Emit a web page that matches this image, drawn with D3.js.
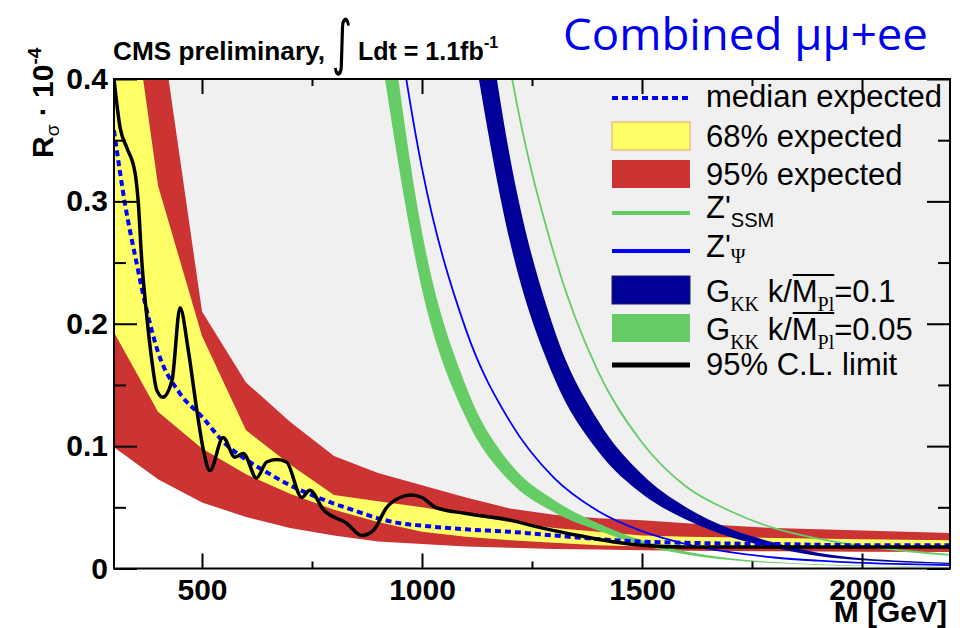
<!DOCTYPE html>
<html>
<head>
<meta charset="utf-8">
<script src="https://cdn.jsdelivr.net/npm/d3@7"></script>
<style>
  body { margin: 0; background: #fff; }
  svg { display: block; }
</style>
</head>
<body>
<svg id="chart" width="960" height="628"></svg>
<script>
// expected limit bands, R_sigma in units of 1e-4
const bandMass = [300, 400, 500, 600, 700, 800, 900, 1000, 1100, 1200, 1300, 1400, 1500, 1600, 1800, 2000, 2200];
const up95 = [0.75, 0.46, 0.21, 0.152, 0.12, 0.092, 0.078, 0.068, 0.058, 0.049, 0.044, 0.041, 0.0395, 0.037, 0.033, 0.031, 0.029];
const up68 = [0.57, 0.313, 0.19, 0.113, 0.085, 0.06, 0.055, 0.05, 0.044, 0.038, 0.033, 0.030, 0.027, 0.026, 0.025, 0.024, 0.023];
const lo68 = [0.193, 0.128, 0.098, 0.077, 0.061, 0.048, 0.038, 0.030, 0.026, 0.023, 0.021, 0.019, 0.018, 0.0175, 0.017, 0.017, 0.0167];
const lo95 = [0.099, 0.073, 0.054, 0.042, 0.033, 0.027, 0.022, 0.020, 0.018, 0.017, 0.016, 0.0155, 0.015, 0.0145, 0.014, 0.0137, 0.0135];

// median expected
const medMass = [300, 325, 350, 375, 400, 450, 500, 550, 600, 650, 700, 750, 800, 850, 900, 950, 1000, 1100, 1200, 1300, 1400, 1500, 1600, 1800, 2000, 2200];
const median = [0.358, 0.298, 0.252, 0.21, 0.177, 0.143, 0.124, 0.103, 0.089, 0.078, 0.068, 0.060, 0.053, 0.047, 0.041, 0.037, 0.035, 0.032, 0.030, 0.027, 0.024, 0.022, 0.021, 0.020, 0.019, 0.019];

// observed 95% C.L. limit
const obsMass = [300, 314, 329, 348, 355, 363, 374, 386, 397, 411, 432, 450, 469, 488, 503, 518, 548, 575, 594, 624, 647, 670, 692, 727, 745, 776, 829, 863, 889, 920, 950, 975, 1000, 1031, 1100, 1193, 1274, 1355, 1437, 1500, 1600, 1800, 2000, 2200];
const observed = [0.40, 0.36, 0.344, 0.323, 0.30, 0.252, 0.208, 0.17, 0.146, 0.140, 0.154, 0.213, 0.178, 0.13, 0.097, 0.080, 0.107, 0.091, 0.094, 0.074, 0.087, 0.089, 0.087, 0.058, 0.064, 0.048, 0.037, 0.027, 0.031, 0.050, 0.058, 0.060, 0.058, 0.050, 0.045, 0.040, 0.033, 0.027, 0.0217, 0.019, 0.0175, 0.0175, 0.0175, 0.0175];

// theory: G_KK k/M_Pl = 0.05 (band)
const g05Mass = [900, 1000, 1100, 1200, 1300, 1400, 1500, 1600, 1700, 1800, 1900, 2000, 2100, 2200];
const g05Hi = [0.53, 0.275, 0.149, 0.086, 0.056, 0.037, 0.023, 0.0138, 0.0083, 0.0053, 0.0035, 0.0024, 0.0018, 0.0013];
const g05Lo = [0.437, 0.228, 0.123, 0.071, 0.046, 0.031, 0.019, 0.0114, 0.0069, 0.0044, 0.0029, 0.0020, 0.0015, 0.0011];

// theory: G_KK k/M_Pl = 0.1 (band)
const g01Mass = [1100, 1200, 1300, 1400, 1500, 1600, 1700, 1800, 1900, 2000, 2100, 2200];
const g01Hi = [0.582, 0.336, 0.196, 0.121, 0.077, 0.050, 0.0325, 0.0213, 0.0129, 0.0084, 0.0062, 0.0047];
const g01Lo = [0.463, 0.267, 0.156, 0.096, 0.061, 0.040, 0.0258, 0.0169, 0.0102, 0.0067, 0.0049, 0.0037];

// theory: Z'_psi and Z'_SSM (lines)
const zpsiMass = [900, 1000, 1100, 1200, 1300, 1400, 1500, 1600, 1700, 1800, 1900, 2000, 2100, 2200];
const zpsi = [0.557, 0.327, 0.195, 0.12, 0.074, 0.047, 0.0305, 0.020, 0.0134, 0.009, 0.0064, 0.0046, 0.0035, 0.0028];
const zssmMass = [1100, 1200, 1300, 1400, 1500, 1600, 1700, 1800, 1900, 2000, 2100, 2200];
const zssm = [0.67, 0.41, 0.257, 0.161, 0.103, 0.067, 0.047, 0.033, 0.0245, 0.0185, 0.0143, 0.0112];

// axes
const xMajor = [500, 1000, 1500, 2000];
const xMinor = [750, 1250, 1750];
const yMajor = [0, 0.1, 0.2, 0.3, 0.4];
const yMinor = [0.05, 0.15, 0.25, 0.35];

const col = {
  grey: "#f0f0f0", yellow: "#ffff66", red: "#cc3333", green: "#66cc66",
  navy: "#000099", blue: "#0000ff"
};
const sans = "'Liberation Sans', Arial, Helvetica, sans-serif";
const serif = "'Liberation Serif', 'Times New Roman', serif";

const svg = d3.select("#chart");
const x = d3.scaleLinear().domain([300, 2200]).range([114, 950]);
const y = d3.scaleLinear().domain([0, 0.4]).range([568.5, 79]);

svg.append("defs").append("clipPath").attr("id", "plot")
  .append("rect").attr("x", x(300)).attr("y", y(0.4))
  .attr("width", x(2200) - x(300)).attr("height", y(0) - y(0.4));

const plot = svg.append("g").attr("clip-path", "url(#plot)");

const zip = (ms, vs) => ms.map((m, i) => [m, vs[i]]);
const zip2 = (ms, lo, hi) => ms.map((m, i) => [m, lo[i], hi[i]]);

// excluded region (grey) above the observed limit
plot.append("path")
  .datum(zip(obsMass, observed))
  .attr("fill", col.grey)
  .attr("d", d3.area().x(d => x(d[0])).y0(y(0.45)).y1(d => y(d[1])).curve(d3.curveMonotoneX));

const bandArea = d3.area().x(d => x(d[0])).y0(d => y(d[1])).y1(d => y(d[2]));
plot.append("path").datum(zip2(bandMass, lo95, up95)).attr("fill", col.red).attr("d", bandArea);
plot.append("path").datum(zip2(bandMass, lo68, up68)).attr("fill", col.yellow).attr("d", bandArea);

const smoothBand = d3.area().x(d => x(d[0])).y0(d => y(d[1])).y1(d => y(d[2])).curve(d3.curveMonotoneX);
const smoothLine = d3.line().x(d => x(d[0])).y(d => y(d[1])).curve(d3.curveMonotoneX);

plot.append("path").datum(zip2(g05Mass, g05Lo, g05Hi)).attr("fill", col.green).attr("d", smoothBand);
plot.append("path").datum(zip2(g01Mass, g01Lo, g01Hi)).attr("fill", col.navy).attr("d", smoothBand);
plot.append("path").datum(zip(zpsiMass, zpsi)).attr("fill", "none")
  .attr("stroke", col.blue).attr("stroke-width", 1.8).attr("d", smoothLine);
plot.append("path").datum(zip(zssmMass, zssm)).attr("fill", "none")
  .attr("stroke", col.green).attr("stroke-width", 1.8).attr("d", smoothLine);

plot.append("path").datum(zip(medMass, median)).attr("fill", "none")
  .attr("stroke", col.blue).attr("stroke-width", 4).attr("stroke-dasharray", "6,4")
  .attr("d", smoothLine);
plot.append("path").datum(zip(obsMass, observed)).attr("fill", "none")
  .attr("stroke", "#000").attr("stroke-width", 3.5).attr("stroke-linejoin", "round")
  .attr("d", smoothLine);

// axes, ROOT style: ticks point inward on all four sides
function styleAxis(g) {
  g.select(".domain").remove();
  g.selectAll(".tick line").attr("stroke", "#000").attr("stroke-width", 2);
  g.selectAll("text").attr("font-family", sans).attr("font-size", 30)
    .attr("font-weight", "bold").attr("fill", "#000");
}
const fmtY = d => d === 0 ? "0" : d3.format(".1f")(d);

svg.append("g").attr("transform", `translate(0,${y(0)})`)
  .call(d3.axisBottom(x).tickValues(xMajor).tickSize(-15).tickFormat(d3.format("d")))
  .call(styleAxis)
  .call(g => g.selectAll("text").attr("y", 31.5).attr("dy", 0));
svg.append("g").attr("transform", `translate(0,${y(0)})`)
  .call(d3.axisBottom(x).tickValues(xMinor).tickSize(-7).tickFormat(""))
  .call(styleAxis);
svg.append("g").attr("transform", `translate(0,${y(0.4)})`)
  .call(d3.axisTop(x).tickValues(xMajor).tickSize(-15).tickFormat(""))
  .call(styleAxis);
svg.append("g").attr("transform", `translate(0,${y(0.4)})`)
  .call(d3.axisTop(x).tickValues(xMinor).tickSize(-7).tickFormat(""))
  .call(styleAxis);

svg.append("g").attr("transform", `translate(${x(300)},0)`)
  .call(d3.axisLeft(y).tickValues(yMajor).tickSize(-23).tickPadding(6).tickFormat(fmtY))
  .call(styleAxis);
svg.append("g").attr("transform", `translate(${x(300)},0)`)
  .call(d3.axisLeft(y).tickValues(yMinor).tickSize(-12).tickFormat(""))
  .call(styleAxis);
svg.append("g").attr("transform", `translate(${x(2200)},0)`)
  .call(d3.axisRight(y).tickValues(yMajor).tickSize(-23).tickFormat(""))
  .call(styleAxis);
svg.append("g").attr("transform", `translate(${x(2200)},0)`)
  .call(d3.axisRight(y).tickValues(yMinor).tickSize(-12).tickFormat(""))
  .call(styleAxis);

svg.append("rect")
  .attr("x", x(300)).attr("y", y(0.4))
  .attr("width", x(2200) - x(300)).attr("height", y(0) - y(0.4))
  .attr("fill", "none").attr("stroke", "#000").attr("stroke-width", 2);

// rich text helper: lays pieces out left to right
function rich(g, x0, y0, pieces) {
  let cx = x0;
  const pos = [];
  pieces.forEach(p => {
    const t = g.append("text")
      .attr("x", cx).attr("y", y0 + (p.dy || 0))
      .attr("font-family", p.serif ? serif : sans)
      .attr("font-size", p.size || 31)
      .attr("font-weight", p.bold ? "bold" : "normal")
      .style("white-space", "pre")
      .text(p.t);
    const w = t.node().getComputedTextLength();
    pos.push([cx, cx + w]);
    cx += w;
  });
  return pos;
}

// axis titles
svg.append("text")
  .attr("x", 947).attr("y", 622).attr("text-anchor", "end")
  .attr("font-family", sans).attr("font-size", 30).attr("font-weight", "bold")
  .text("M [GeV]");

const yl = svg.append("g").attr("transform", "translate(53,158) rotate(-90)");
rich(yl, 0, 0, [
  { t: "R", bold: true, size: 30 },
  { t: "σ", size: 19, dy: 6 },
  { t: " · ", bold: true, size: 30 },
  { t: "10", bold: true, size: 30 },
  { t: "-4", bold: true, size: 19, dy: -12 }
]);

// header
svg.append("text").attr("x", 113).attr("y", 60)
  .attr("font-family", sans).attr("font-size", 25).attr("font-weight", "bold")
  .attr("textLength", 212).attr("lengthAdjust", "spacingAndGlyphs")
  .text("CMS preliminary,");
svg.append("text").attr("transform", "translate(342,63) scale(0.65,1)")
  .attr("text-anchor", "middle")
  .attr("font-family", "'DejaVu Sans', sans-serif").attr("font-size", 60)
  .text("∫");
svg.append("text").attr("x", 358).attr("y", 60)
  .attr("font-family", sans).attr("font-size", 25).attr("font-weight", "bold")
  .text("Ldt = 1.1fb");
svg.append("text").attr("x", 484).attr("y", 48)
  .attr("font-family", sans).attr("font-size", 16).attr("font-weight", "bold")
  .text("-1");

svg.append("text").attr("x", 563).attr("y", 50)
  .attr("font-family", "'Open Sans', 'Noto Sans', sans-serif").attr("font-size", 44)
  .attr("fill", "#0000f0").attr("textLength", 365).attr("lengthAdjust", "spacingAndGlyphs")
  .text("Combined μμ+ee");

// legend
const legRows = [98, 136, 174, 213, 251, 290, 328, 365];
const legX0 = 612, legX1 = 690, legTx = 706;
const leg = svg.append("g");

leg.append("line").attr("x1", legX0).attr("x2", legX1).attr("y1", legRows[0]).attr("y2", legRows[0])
  .attr("stroke", col.blue).attr("stroke-width", 4).attr("stroke-dasharray", "6,4");
leg.append("rect").attr("x", legX0).attr("y", legRows[1] - 14).attr("width", legX1 - legX0).attr("height", 28)
  .attr("fill", col.yellow).attr("stroke", "#f0a070").attr("stroke-width", 1);
leg.append("rect").attr("x", legX0).attr("y", legRows[2] - 14).attr("width", legX1 - legX0).attr("height", 28)
  .attr("fill", col.red);
leg.append("line").attr("x1", legX0).attr("x2", legX1).attr("y1", legRows[3]).attr("y2", legRows[3])
  .attr("stroke", col.green).attr("stroke-width", 4);
leg.append("line").attr("x1", legX0).attr("x2", legX1).attr("y1", legRows[4]).attr("y2", legRows[4])
  .attr("stroke", col.blue).attr("stroke-width", 4);
leg.append("rect").attr("x", legX0).attr("y", legRows[5] - 14).attr("width", legX1 - legX0).attr("height", 28)
  .attr("fill", col.navy).attr("stroke", "#202060").attr("stroke-width", 1);
leg.append("rect").attr("x", legX0).attr("y", legRows[6] - 14).attr("width", legX1 - legX0).attr("height", 28)
  .attr("fill", col.green);
leg.append("line").attr("x1", legX0).attr("x2", legX1).attr("y1", legRows[7]).attr("y2", legRows[7])
  .attr("stroke", "#000").attr("stroke-width", 5);

rich(leg, legTx, legRows[0] + 9, [{ t: "median expected" }]);
rich(leg, legTx, legRows[1] + 11, [{ t: "68% expected" }]);
rich(leg, legTx, legRows[2] + 11, [{ t: "95% expected" }]);
rich(leg, legTx, legRows[3] + 5, [{ t: "Z'" }, { t: "SSM", size: 20, dy: 9 }]);
rich(leg, legTx, legRows[4] + 6, [{ t: "Z'" }, { t: "Ψ", size: 20, dy: 6, serif: true }]);
[[5, "=0.1"], [6, "=0.05"]].forEach(([r, val]) => {
  const p = rich(leg, legTx, legRows[r] + 12, [
    { t: "G" }, { t: "KK", size: 20, dy: 9, serif: true },
    { t: " k/" }, { t: "M" }, { t: "Pl", size: 20, dy: 9, serif: true }, { t: val }
  ]);
  leg.append("line").attr("x1", p[3][0] + 1).attr("x2", p[4][1])
    .attr("y1", legRows[r] - 15).attr("y2", legRows[r] - 15)
    .attr("stroke", "#000").attr("stroke-width", 2);
});
rich(leg, legTx, legRows[7] + 10, [{ t: "95% C.L. limit" }]);
</script>
</body>
</html>
